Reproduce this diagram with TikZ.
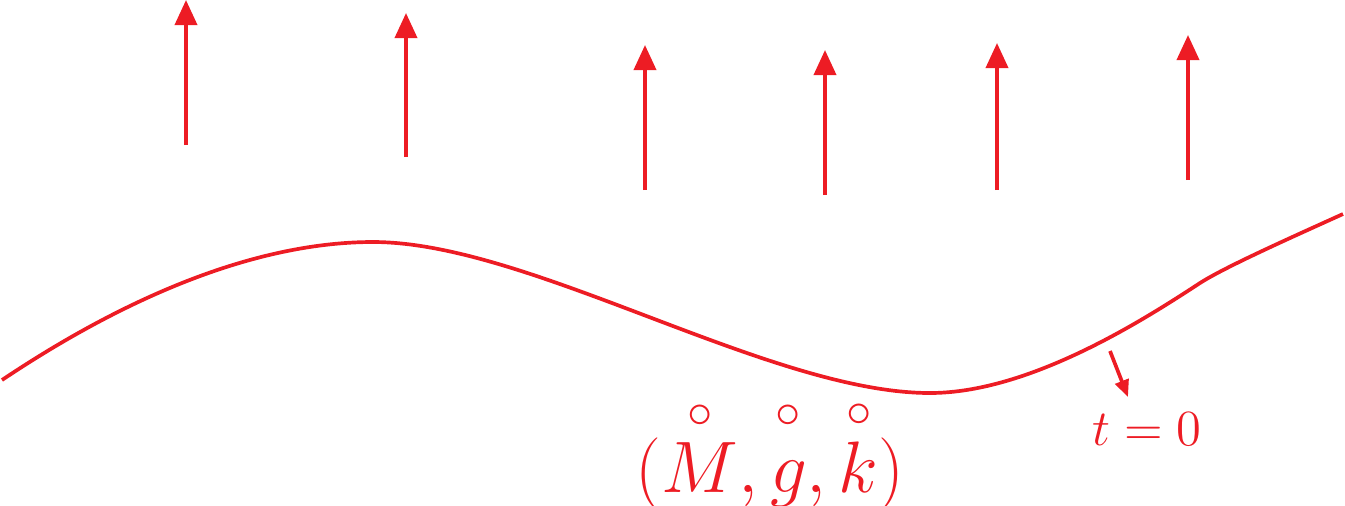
\documentclass[tikz,border=0pt]{standalone}
\usepackage{amsmath}
\usetikzlibrary{arrows.meta}
\definecolor{figred}{RGB}{237,28,36}
\newcommand{\ringed}[1]{\overset{\circ}{\vphantom{M}#1}}

\begin{document}
\begin{tikzpicture}[x=0.01cm, y=-0.01cm, figred, line width=1.05pt]

\useasboundingbox (0,0) rectangle (1345,505);

% the normal vectors
\foreach \name/\px/\pfoot/\ptip in {n1/186/145/0, n2/406/157/13, n3/645/190/45, n4/825/195/50, n5/997/190/43, n6/1188/180/35} {
  \coordinate (\name-foot) at (\px,\pfoot);
  \coordinate (\name-tip) at (\px,\ptip);
  \draw[-{Triangle[length=0.25cm,width=0.22cm]}] (\name-foot) -- (\name-tip);
}

% the initial slice
\draw (2,380) .. controls (132,293) and (260,242) .. (373,242)
  .. controls (530,242) and (770,393) .. (930,393)
  .. controls (1030,393) and (1145,319) .. (1200,283)
  .. controls (1225,267) and (1290,238) .. (1343,214);

\coordinate (slice) at (1110,351);
\node[anchor=base, font=\Large] (t0) at (1147,445) {$t=0$};
\coordinate (t0-top) at (1128,397);
\draw[-{Triangle[length=0.17cm,width=0.14cm]}] (slice) -- (t0-top);

\node[anchor=base, font=\huge] (data) at (770,492) {$(\ringed{M},\ringed{g},\ringed{k})$};

\end{tikzpicture}
\end{document}
